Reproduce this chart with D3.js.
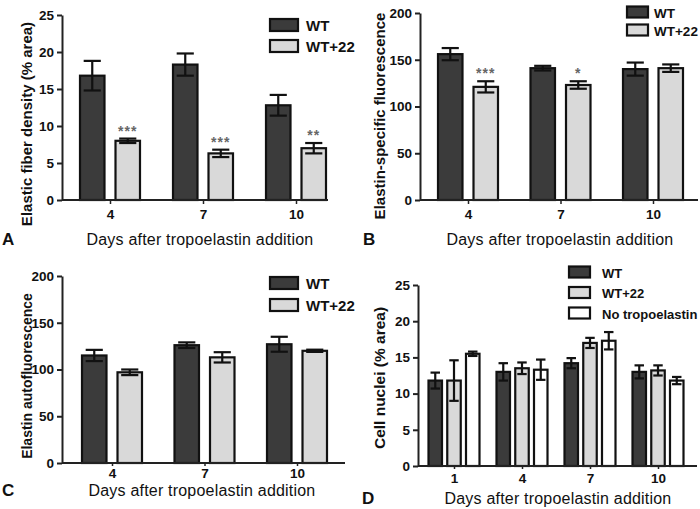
<!DOCTYPE html>
<html><head><meta charset="utf-8">
<script src="https://cdn.jsdelivr.net/npm/d3@7"></script>
<style>
body{margin:0;background:#fff;}
svg{display:block;font-family:"Liberation Sans",Arial,sans-serif;}
</style></head>
<body><svg id="c" width="700" height="509"></svg>
<script>
// ---- data ----
const daysABC = ["4","7","10"];
const daysD = ["1","4","7","10"];
const seriesABC = ["WT","WT+22"];
const seriesD = ["WT","WT+22","No tropoelastin"];
const xTitle = "Days after tropoelastin addition";

const fiberWT = [16.8, 18.3, 12.8];
const fiberWTErr = [2.0, 1.5, 1.4];
const fiberWT22 = [8.0, 6.3, 7.0];
const fiberWT22Err = [0.3, 0.5, 0.7];
const fiberStars = ["***","***","**"];
const fiberTicks = [0,5,10,15,20,25];

const specWT = [156, 141, 140];
const specWTErr = [6.5, 2.5, 7];
const specWT22 = [121, 123, 141];
const specWT22Err = [6, 4, 4];
const specStars = ["***","*",""];
const specTicks = [0,50,100,150,200];

const autoWT = [115, 126, 127];
const autoWTErr = [6, 3, 8];
const autoWT22 = [97, 113, 120];
const autoWT22Err = [3, 5.5, 1.2];
const autoTicks = [0,50,100,150,200];

const nucWT = [11.8, 13.0, 14.2, 13.0];
const nucWTErr = [1.1, 1.2, 0.7, 0.9];
const nucWT22 = [11.8, 13.5, 17.0, 13.2];
const nucWT22Err = [2.8, 0.8, 0.7, 0.7];
const nucNoT = [15.5, 13.3, 17.3, 11.8];
const nucNoTErr = [0.3, 1.4, 1.2, 0.5];
const nucTicks = [0,5,10,15,20,25];

const fills = {"WT":"#3b3b3b","WT+22":"#d9d9d9","No tropoelastin":"#ffffff"};

const svg = d3.select("#c");

function panel(o){
  const g = svg.append("g");
  const y = d3.scaleLinear().domain([0, o.yMax]).range([o.y0, o.yTop]);
  const xg = d3.scalePoint().domain(o.days).range(o.centers);
  const xs = d3.scaleBand().domain(o.series).range([-o.groupW/2, o.groupW/2]).paddingInner(o.pad).paddingOuter(0);
  const bw = xs.bandwidth();
  // bars
  o.series.forEach((s, si) => {
    const vals = o.values[si], errs = o.errs[si];
    o.days.forEach((d, i) => {
      const x = xg(d) + xs(s);
      g.append("rect").attr("x", x).attr("y", y(vals[i]))
        .attr("width", bw).attr("height", y(0) - y(vals[i]))
        .attr("fill", fills[s]).attr("stroke", "#111").attr("stroke-width", 2.2);
      const cx = x + bw/2, cw = bw*0.35;
      const hi = y(vals[i] + errs[i]), lo = y(vals[i] - errs[i]);
      g.append("line").attr("x1", cx).attr("x2", cx).attr("y1", hi).attr("y2", lo)
        .attr("stroke", "#111").attr("stroke-width", 2.2);
      [hi, lo].forEach(yy => g.append("line").attr("x1", cx-cw).attr("x2", cx+cw)
        .attr("y1", yy).attr("y2", yy).attr("stroke", "#111").attr("stroke-width", 2.2));
      if (o.stars && si === 1 && o.stars[i]) {
        g.append("text").attr("x", cx).attr("y", hi - 3).attr("text-anchor", "middle")
          .attr("font-size", 14).attr("font-weight", "bold").attr("letter-spacing", 1)
          .attr("fill", "#666").text(o.stars[i]);
      }
    });
  });
  // y axis
  const ya = g.append("g").attr("transform", `translate(${o.axisX},0)`)
    .call(d3.axisLeft(y).tickValues(o.ticks).tickSize(5).tickSizeOuter(0).tickPadding(3));
  ya.select(".domain").attr("stroke", "#222").attr("stroke-width", 2);
  ya.selectAll(".tick line").attr("stroke", "#222").attr("stroke-width", 2);
  ya.selectAll(".tick text").attr("font-size", 13.5).attr("font-weight", "bold")
    .attr("fill", "#111").attr("font-family", "Liberation Sans, Arial, sans-serif");
  // x axis
  g.append("line").attr("x1", o.axisX).attr("x2", o.xEnd).attr("y1", o.y0).attr("y2", o.y0)
    .attr("stroke", "#222").attr("stroke-width", 2);
  const xa = g.append("g").attr("transform", `translate(0,${o.y0})`)
    .call(d3.axisBottom(xg).tickSize(o.xTickSize).tickPadding(o.xTickPad));
  xa.select(".domain").remove();
  xa.selectAll(".tick line").attr("stroke", "#222").attr("stroke-width", 1.5);
  xa.selectAll(".tick text").attr("font-size", 13.5).attr("font-weight", "bold")
    .attr("fill", "#111").attr("font-family", "Liberation Sans, Arial, sans-serif");
  // titles
  g.append("text").attr("transform", `translate(${o.yTitleX},${o.yTitleY}) rotate(-90)`)
    .attr("text-anchor", "middle").attr("font-size", o.yTitleFont).attr("font-weight", "bold")
    .attr("fill", "#111").text(o.yTitle);
  g.append("text").attr("x", o.xTitleX).attr("y", o.xTitleY).attr("text-anchor", "middle")
    .attr("font-size", 16).attr("fill", "#111").attr("letter-spacing", 0.2).text(xTitle);
  g.append("text").attr("x", o.letterX).attr("y", o.xTitleY).attr("font-size", 17)
    .attr("font-weight", "bold").attr("fill", "#111").text(o.letter);
  // legend
  o.series.forEach((s, si) => {
    const cy = o.legY + si * o.legStep;
    g.append("rect").attr("x", o.legX).attr("y", cy - o.legH/2).attr("width", o.legW).attr("height", o.legH)
      .attr("fill", fills[s]).attr("stroke", "#111").attr("stroke-width", 2.2);
    g.append("text").attr("x", o.legTextX).attr("y", cy + 5.5).attr("font-size", o.legFont)
      .attr("font-weight", "bold").attr("fill", "#111").text(s);
  });
}

panel({days: daysABC, series: seriesABC, values: [fiberWT, fiberWT22], errs: [fiberWTErr, fiberWT22Err],
  stars: fiberStars, ticks: fiberTicks, yMax: 25, y0: 200, yTop: 15, axisX: 62, xEnd: 328,
  centers: [110, 296], groupW: 60, pad: 0.31, xTickSize: 4, xTickPad: 5,
  yTitle: "Elastic fiber density (% area)", yTitleX: 32, yTitleY: 124, yTitleFont: 15,
  xTitleX: 200, xTitleY: 245, letter: "A", letterX: 2,
  legX: 270, legW: 28, legH: 12, legY: 25, legStep: 21, legTextX: 306, legFont: 15});

panel({days: daysABC, series: seriesABC, values: [specWT, specWT22], errs: [specWTErr, specWT22Err],
  stars: specStars, ticks: specTicks, yMax: 200, y0: 200, yTop: 13, axisX: 420, xEnd: 698,
  centers: [468, 653], groupW: 60, pad: 0.31, xTickSize: 4, xTickPad: 5,
  yTitle: "Elastin-specific fluorescence", yTitleX: 385, yTitleY: 116, yTitleFont: 15,
  xTitleX: 560, xTitleY: 245, letter: "B", letterX: 363,
  legX: 627, legW: 21, legH: 11, legY: 12, legStep: 18, legTextX: 654, legFont: 13.5});

panel({days: daysABC, series: seriesABC, values: [autoWT, autoWT22], errs: [autoWTErr, autoWT22Err],
  stars: null, ticks: autoTicks, yMax: 200, y0: 463, yTop: 276, axisX: 62, xEnd: 345,
  centers: [112, 297], groupW: 60, pad: 0.31, xTickSize: 3, xTickPad: 2,
  yTitle: "Elastin autofluorescence", yTitleX: 32, yTitleY: 376, yTitleFont: 14,
  xTitleX: 202, xTitleY: 496, letter: "C", letterX: 2,
  legX: 270, legW: 28, legH: 12, legY: 283, legStep: 22, legTextX: 306, legFont: 15});

panel({days: daysD, series: seriesD, values: [nucWT, nucWT22, nucNoT], errs: [nucWTErr, nucWT22Err, nucNoTErr],
  stars: null, ticks: nucTicks, yMax: 25, y0: 466, yTop: 285, axisX: 418, xEnd: 697,
  centers: [454, 658], groupW: 51, pad: 0.28, xTickSize: 3, xTickPad: 4,
  yTitle: "Cell nuclei (% area)", yTitleX: 385, yTitleY: 378, yTitleFont: 15.5,
  xTitleX: 558, xTitleY: 504, letter: "D", letterX: 362,
  legX: 569, legW: 21, legH: 11, legY: 272, legStep: 20.5, legTextX: 602, legFont: 13});
</script></body></html>
